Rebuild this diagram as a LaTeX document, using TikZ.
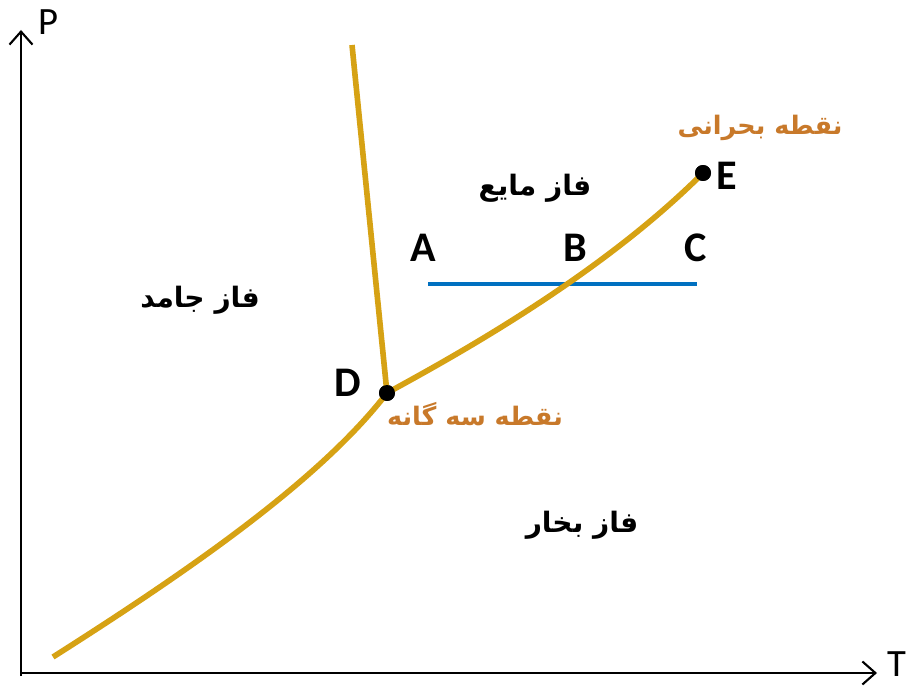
\documentclass[tikz,border=0pt]{standalone}
\usepackage{fontspec}
\setmainfont{Carlito}
\newfontfamily\persianfont[Script=Arabic]{DejaVu Sans}
\TeXXeTstate=1
\usetikzlibrary{arrows.meta, positioning}
\definecolor{gold}{RGB}{214,162,20}
\definecolor{rust}{RGB}{200,121,42}
\definecolor{lineblue}{RGB}{0,112,192}

\begin{document}
\begin{tikzpicture}[
        x=0.02cm, y=-0.02cm,
        axis/.style={-{Straight Barb[length=2.6mm, width=4.6mm]}, line width=1.2pt},
        curve/.style={draw=gold, line width=3.2pt},
        dot/.style={circle, fill=black, inner sep=0pt, minimum size=0.32cm},
        letter/.style={font=\fontsize{24}{28}\selectfont\bfseries},
        axislabel/.style={font=\fontsize{22}{26}\selectfont, inner sep=0pt},
        phase/.style={font=\fontsize{16}{20}\selectfont\persianfont\bfseries},
        point/.style={font=\fontsize{14.5}{18}\selectfont\persianfont\bfseries, text=rust}
    ]
        \useasboundingbox (0,0) rectangle (914,686);

        % axes
        \coordinate (origin) at (21,673);
        \coordinate (ptop) at (21,30);
        \coordinate (tend) at (877,673);
        \draw[axis] (21,676) -- (ptop);
        \draw[axis] (origin) -- (tend);
        \node[axislabel] (plabel) at (48,22) {P};
        \node[axislabel] (tlabel) at (897,664) {T};

        % triple point and critical point
        \node[dot] (D) at (387,393) {};
        \node[dot] (E) at (703,173) {};
        \coordinate (subl) at (53,657);
        \coordinate (melt) at (352,45);
        \coordinate (A) at (428,284);
        \coordinate (C) at (697,284);

        \draw[lineblue, line width=2.8pt] (A) -- (C);
        \draw[curve] (subl) .. controls (190,570) and (320,480) .. (D.center);
        \draw[curve] (melt) -- (D.center);
        \draw[curve] (D.center) .. controls (447,360) and (597,279) .. (E.center);
        \node[dot] at (D) {};
        \node[dot] at (E) {};

        \node[letter] (Alabel) at (423,248) {A};
        \node[letter] (Blabel) at (575,248) {B};
        \node[letter] (Clabel) at (696,248) {C};
        \node[letter] (Dlabel) at (348,383) {D};
        \node[letter] (Elabel) at (727,176) {E};

        \node[point] (critical) at (760,128) {\beginR نقطه بحرانی\endR};
        \node[point] (triple) at (475,414) {\beginR نقطه سه گانه\endR};
        \node[phase] (solid) at (200,300) {\beginR فاز جامد\endR};
        \node[phase] (liquid) at (535,188) {\beginR فاز مایع\endR};
        \node[phase] (vapour) at (582,525) {\beginR فاز بخار\endR};
\end{tikzpicture}
\end{document}
